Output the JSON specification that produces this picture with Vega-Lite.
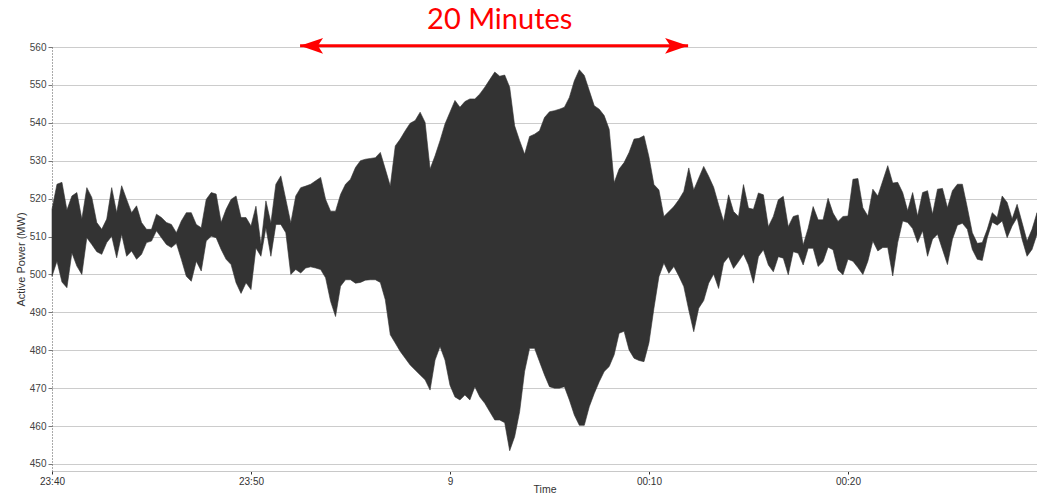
{
  "$schema": "https://vega.github.io/schema/vega-lite/v6.json",
  "width": 985,
  "height": 424,
  "autosize": {"type": "none"},
  "padding": {"left": 52, "top": 47, "right": 0, "bottom": 25},
  "background": "white",
  "config": {
    "view": {"stroke": null},
    "font": "Liberation Sans"
  },
  "datasets": {
    "power": [
      {"t":"2021-01-08T23:40:00","hi":517.2,"lo":499.5},
      {"t":"2021-01-08T23:40:15","hi":523.8,"lo":503.5},
      {"t":"2021-01-08T23:40:30","hi":524.3,"lo":498.0},
      {"t":"2021-01-08T23:40:45","hi":517.0,"lo":496.5},
      {"t":"2021-01-08T23:41:00","hi":520.7,"lo":505.7},
      {"t":"2021-01-08T23:41:15","hi":521.6,"lo":502.2},
      {"t":"2021-01-08T23:41:30","hi":514.6,"lo":500.0},
      {"t":"2021-01-08T23:41:45","hi":522.9,"lo":509.7},
      {"t":"2021-01-08T23:42:00","hi":520.3,"lo":507.9},
      {"t":"2021-01-08T23:42:15","hi":513.7,"lo":506.0},
      {"t":"2021-01-08T23:42:30","hi":511.9,"lo":505.3},
      {"t":"2021-01-08T23:42:45","hi":514.6,"lo":508.4},
      {"t":"2021-01-08T23:43:00","hi":522.9,"lo":510.1},
      {"t":"2021-01-08T23:43:15","hi":516.3,"lo":504.4},
      {"t":"2021-01-08T23:43:30","hi":523.4,"lo":510.6},
      {"t":"2021-01-08T23:43:45","hi":519.8,"lo":504.8},
      {"t":"2021-01-08T23:44:00","hi":516.3,"lo":506.2},
      {"t":"2021-01-08T23:44:15","hi":518.1,"lo":504.0},
      {"t":"2021-01-08T23:44:30","hi":513.7,"lo":505.3},
      {"t":"2021-01-08T23:44:45","hi":511.9,"lo":508.4},
      {"t":"2021-01-08T23:45:00","hi":511.9,"lo":508.8},
      {"t":"2021-01-08T23:45:15","hi":515.9,"lo":511.5},
      {"t":"2021-01-08T23:45:30","hi":515.0,"lo":509.7},
      {"t":"2021-01-08T23:45:45","hi":513.7,"lo":507.9},
      {"t":"2021-01-08T23:46:00","hi":513.2,"lo":507.1},
      {"t":"2021-01-08T23:46:15","hi":511.0,"lo":508.2},
      {"t":"2021-01-08T23:46:30","hi":514.1,"lo":504.0},
      {"t":"2021-01-08T23:46:45","hi":516.3,"lo":499.5},
      {"t":"2021-01-08T23:47:00","hi":516.3,"lo":498.2},
      {"t":"2021-01-08T23:47:15","hi":513.2,"lo":503.5},
      {"t":"2021-01-08T23:47:30","hi":512.3,"lo":500.9},
      {"t":"2021-01-08T23:47:45","hi":519.8,"lo":508.8},
      {"t":"2021-01-08T23:48:00","hi":521.6,"lo":510.1},
      {"t":"2021-01-08T23:48:15","hi":521.2,"lo":509.7},
      {"t":"2021-01-08T23:48:30","hi":513.7,"lo":506.6},
      {"t":"2021-01-08T23:48:45","hi":517.2,"lo":504.0},
      {"t":"2021-01-08T23:49:00","hi":519.8,"lo":502.6},
      {"t":"2021-01-08T23:49:15","hi":520.7,"lo":497.8},
      {"t":"2021-01-08T23:49:30","hi":515.0,"lo":495.0},
      {"t":"2021-01-08T23:49:45","hi":515.0,"lo":497.8},
      {"t":"2021-01-08T23:50:00","hi":512.8,"lo":496.0},
      {"t":"2021-01-08T23:50:15","hi":518.0,"lo":507.0},
      {"t":"2021-01-08T23:50:30","hi":507.9,"lo":504.8},
      {"t":"2021-01-08T23:50:45","hi":519.4,"lo":512.3},
      {"t":"2021-01-08T23:51:00","hi":513.6,"lo":504.8},
      {"t":"2021-01-08T23:51:15","hi":523.8,"lo":513.2},
      {"t":"2021-01-08T23:51:30","hi":526.0,"lo":513.2},
      {"t":"2021-01-08T23:51:45","hi":519.8,"lo":511.0},
      {"t":"2021-01-08T23:52:00","hi":513.6,"lo":500.0},
      {"t":"2021-01-08T23:52:15","hi":520.7,"lo":501.3},
      {"t":"2021-01-08T23:52:30","hi":522.9,"lo":500.4},
      {"t":"2021-01-08T23:52:45","hi":523.3,"lo":501.7},
      {"t":"2021-01-08T23:53:00","hi":523.8,"lo":502.0},
      {"t":"2021-01-08T23:53:15","hi":524.7,"lo":501.7},
      {"t":"2021-01-08T23:53:30","hi":525.6,"lo":501.3},
      {"t":"2021-01-08T23:53:45","hi":519.8,"lo":499.1},
      {"t":"2021-01-08T23:54:00","hi":516.7,"lo":492.9},
      {"t":"2021-01-08T23:54:15","hi":516.7,"lo":488.9},
      {"t":"2021-01-08T23:54:30","hi":521.1,"lo":496.9},
      {"t":"2021-01-08T23:54:45","hi":523.8,"lo":498.6},
      {"t":"2021-01-08T23:55:00","hi":525.1,"lo":498.6},
      {"t":"2021-01-08T23:55:15","hi":528.2,"lo":497.7},
      {"t":"2021-01-08T23:55:30","hi":530.0,"lo":497.9},
      {"t":"2021-01-08T23:55:45","hi":530.4,"lo":498.5},
      {"t":"2021-01-08T23:56:00","hi":530.6,"lo":498.6},
      {"t":"2021-01-08T23:56:15","hi":530.8,"lo":498.6},
      {"t":"2021-01-08T23:56:30","hi":532.2,"lo":497.9},
      {"t":"2021-01-08T23:56:45","hi":527.8,"lo":493.3},
      {"t":"2021-01-08T23:57:00","hi":523.3,"lo":484.1},
      {"t":"2021-01-08T23:57:15","hi":533.9,"lo":481.9},
      {"t":"2021-01-08T23:57:30","hi":535.7,"lo":479.7},
      {"t":"2021-01-08T23:57:45","hi":537.9,"lo":477.9},
      {"t":"2021-01-08T23:58:00","hi":539.9,"lo":476.1},
      {"t":"2021-01-08T23:58:15","hi":540.6,"lo":474.8},
      {"t":"2021-01-08T23:58:30","hi":542.8,"lo":473.5},
      {"t":"2021-01-08T23:58:45","hi":540.1,"lo":472.2},
      {"t":"2021-01-08T23:59:00","hi":527.8,"lo":469.5},
      {"t":"2021-01-08T23:59:15","hi":531.3,"lo":477.4},
      {"t":"2021-01-08T23:59:30","hi":535.3,"lo":481.0},
      {"t":"2021-01-08T23:59:45","hi":539.7,"lo":477.4},
      {"t":"2021-01-09T00:00:00","hi":542.8,"lo":470.8},
      {"t":"2021-01-09T00:00:15","hi":545.9,"lo":467.7},
      {"t":"2021-01-09T00:00:30","hi":544.1,"lo":466.9},
      {"t":"2021-01-09T00:00:45","hi":545.6,"lo":468.2},
      {"t":"2021-01-09T00:01:00","hi":546.3,"lo":466.9},
      {"t":"2021-01-09T00:01:15","hi":546.3,"lo":470.4},
      {"t":"2021-01-09T00:01:30","hi":547.6,"lo":467.7},
      {"t":"2021-01-09T00:01:45","hi":549.4,"lo":466.0},
      {"t":"2021-01-09T00:02:00","hi":551.4,"lo":463.8},
      {"t":"2021-01-09T00:02:15","hi":553.4,"lo":461.6},
      {"t":"2021-01-09T00:02:30","hi":552.3,"lo":461.6},
      {"t":"2021-01-09T00:02:45","hi":552.6,"lo":460.9},
      {"t":"2021-01-09T00:03:00","hi":549.4,"lo":453.5},
      {"t":"2021-01-09T00:03:15","hi":539.2,"lo":457.2},
      {"t":"2021-01-09T00:03:30","hi":535.3,"lo":463.8},
      {"t":"2021-01-09T00:03:45","hi":531.7,"lo":474.4},
      {"t":"2021-01-09T00:04:00","hi":536.4,"lo":480.5},
      {"t":"2021-01-09T00:04:15","hi":537.0,"lo":480.5},
      {"t":"2021-01-09T00:04:30","hi":537.9,"lo":477.0},
      {"t":"2021-01-09T00:04:45","hi":541.4,"lo":473.5},
      {"t":"2021-01-09T00:05:00","hi":542.9,"lo":470.4},
      {"t":"2021-01-09T00:05:15","hi":543.2,"lo":470.0},
      {"t":"2021-01-09T00:05:30","hi":543.6,"lo":470.0},
      {"t":"2021-01-09T00:05:45","hi":544.1,"lo":470.4},
      {"t":"2021-01-09T00:06:00","hi":546.7,"lo":466.9},
      {"t":"2021-01-09T00:06:15","hi":551.1,"lo":462.9},
      {"t":"2021-01-09T00:06:30","hi":554.0,"lo":460.2},
      {"t":"2021-01-09T00:06:45","hi":552.5,"lo":460.2},
      {"t":"2021-01-09T00:07:00","hi":548.5,"lo":465.1},
      {"t":"2021-01-09T00:07:15","hi":544.5,"lo":468.6},
      {"t":"2021-01-09T00:07:30","hi":543.6,"lo":471.7},
      {"t":"2021-01-09T00:07:45","hi":541.9,"lo":474.4},
      {"t":"2021-01-09T00:08:00","hi":538.3,"lo":475.7},
      {"t":"2021-01-09T00:08:15","hi":524.2,"lo":478.8},
      {"t":"2021-01-09T00:08:30","hi":527.8,"lo":484.5},
      {"t":"2021-01-09T00:08:45","hi":529.5,"lo":485.0},
      {"t":"2021-01-09T00:09:00","hi":532.2,"lo":480.1},
      {"t":"2021-01-09T00:09:15","hi":535.7,"lo":477.9},
      {"t":"2021-01-09T00:09:30","hi":535.9,"lo":477.3},
      {"t":"2021-01-09T00:09:45","hi":536.6,"lo":477.0},
      {"t":"2021-01-09T00:10:00","hi":531.0,"lo":482.0},
      {"t":"2021-01-09T00:10:15","hi":523.7,"lo":491.1},
      {"t":"2021-01-09T00:10:30","hi":522.3,"lo":499.4},
      {"t":"2021-01-09T00:10:45","hi":515.3,"lo":503.0},
      {"t":"2021-01-09T00:11:00","hi":516.6,"lo":500.3},
      {"t":"2021-01-09T00:11:15","hi":517.9,"lo":502.1},
      {"t":"2021-01-09T00:11:30","hi":519.7,"lo":499.6},
      {"t":"2021-01-09T00:11:45","hi":521.9,"lo":496.8},
      {"t":"2021-01-09T00:12:00","hi":528.1,"lo":490.6},
      {"t":"2021-01-09T00:12:15","hi":522.3,"lo":484.9},
      {"t":"2021-01-09T00:12:30","hi":525.4,"lo":491.1},
      {"t":"2021-01-09T00:12:45","hi":528.5,"lo":493.1},
      {"t":"2021-01-09T00:13:00","hi":525.9,"lo":497.7},
      {"t":"2021-01-09T00:13:15","hi":523.0,"lo":500.1},
      {"t":"2021-01-09T00:13:30","hi":518.4,"lo":496.3},
      {"t":"2021-01-09T00:13:45","hi":514.0,"lo":503.0},
      {"t":"2021-01-09T00:14:00","hi":521.0,"lo":504.7},
      {"t":"2021-01-09T00:14:15","hi":516.6,"lo":501.6},
      {"t":"2021-01-09T00:14:30","hi":515.3,"lo":503.4},
      {"t":"2021-01-09T00:14:45","hi":523.7,"lo":505.4},
      {"t":"2021-01-09T00:15:00","hi":517.5,"lo":502.5},
      {"t":"2021-01-09T00:15:15","hi":517.2,"lo":497.7},
      {"t":"2021-01-09T00:15:30","hi":521.5,"lo":504.7},
      {"t":"2021-01-09T00:15:45","hi":521.0,"lo":506.5},
      {"t":"2021-01-09T00:16:00","hi":512.6,"lo":502.5},
      {"t":"2021-01-09T00:16:15","hi":515.3,"lo":500.7},
      {"t":"2021-01-09T00:16:30","hi":519.7,"lo":504.7},
      {"t":"2021-01-09T00:16:45","hi":520.6,"lo":504.3},
      {"t":"2021-01-09T00:17:00","hi":512.6,"lo":499.9},
      {"t":"2021-01-09T00:17:15","hi":515.3,"lo":506.0},
      {"t":"2021-01-09T00:17:30","hi":515.7,"lo":505.6},
      {"t":"2021-01-09T00:17:45","hi":507.8,"lo":502.5},
      {"t":"2021-01-09T00:18:00","hi":512.2,"lo":506.9},
      {"t":"2021-01-09T00:18:15","hi":517.9,"lo":506.9},
      {"t":"2021-01-09T00:18:30","hi":514.4,"lo":502.1},
      {"t":"2021-01-09T00:18:45","hi":514.4,"lo":503.4},
      {"t":"2021-01-09T00:19:00","hi":520.1,"lo":507.2},
      {"t":"2021-01-09T00:19:15","hi":516.2,"lo":506.5},
      {"t":"2021-01-09T00:19:30","hi":514.0,"lo":501.2},
      {"t":"2021-01-09T00:19:45","hi":515.3,"lo":499.9},
      {"t":"2021-01-09T00:20:00","hi":515.4,"lo":504.0},
      {"t":"2021-01-09T00:20:15","hi":525.1,"lo":503.5},
      {"t":"2021-01-09T00:20:30","hi":525.3,"lo":501.8},
      {"t":"2021-01-09T00:20:45","hi":517.6,"lo":500.0},
      {"t":"2021-01-09T00:21:00","hi":515.4,"lo":503.5},
      {"t":"2021-01-09T00:21:15","hi":522.5,"lo":508.8},
      {"t":"2021-01-09T00:21:30","hi":520.7,"lo":506.2},
      {"t":"2021-01-09T00:21:45","hi":524.7,"lo":507.1},
      {"t":"2021-01-09T00:22:00","hi":528.7,"lo":507.1},
      {"t":"2021-01-09T00:22:15","hi":524.1,"lo":499.6},
      {"t":"2021-01-09T00:22:30","hi":524.3,"lo":508.4},
      {"t":"2021-01-09T00:22:45","hi":521.6,"lo":514.1},
      {"t":"2021-01-09T00:23:00","hi":516.8,"lo":513.7},
      {"t":"2021-01-09T00:23:15","hi":521.6,"lo":512.1},
      {"t":"2021-01-09T00:23:30","hi":515.4,"lo":508.4},
      {"t":"2021-01-09T00:23:45","hi":521.6,"lo":511.5},
      {"t":"2021-01-09T00:24:00","hi":522.1,"lo":504.8},
      {"t":"2021-01-09T00:24:15","hi":515.9,"lo":509.3},
      {"t":"2021-01-09T00:24:30","hi":522.5,"lo":510.6},
      {"t":"2021-01-09T00:24:45","hi":522.7,"lo":506.6},
      {"t":"2021-01-09T00:25:00","hi":517.6,"lo":502.6},
      {"t":"2021-01-09T00:25:15","hi":522.1,"lo":509.3},
      {"t":"2021-01-09T00:25:30","hi":523.8,"lo":513.0},
      {"t":"2021-01-09T00:25:45","hi":523.8,"lo":513.5},
      {"t":"2021-01-09T00:26:00","hi":517.6,"lo":511.9},
      {"t":"2021-01-09T00:26:15","hi":511.0,"lo":506.6},
      {"t":"2021-01-09T00:26:30","hi":508.2,"lo":504.0},
      {"t":"2021-01-09T00:26:45","hi":508.4,"lo":503.7},
      {"t":"2021-01-09T00:27:00","hi":511.9,"lo":509.7},
      {"t":"2021-01-09T00:27:15","hi":516.3,"lo":513.8},
      {"t":"2021-01-09T00:27:30","hi":515.0,"lo":513.0},
      {"t":"2021-01-09T00:27:45","hi":520.7,"lo":514.1},
      {"t":"2021-01-09T00:28:00","hi":519.0,"lo":509.7},
      {"t":"2021-01-09T00:28:15","hi":514.6,"lo":512.8},
      {"t":"2021-01-09T00:28:30","hi":518.5,"lo":515.0},
      {"t":"2021-01-09T00:28:45","hi":513.7,"lo":509.3},
      {"t":"2021-01-09T00:29:00","hi":508.8,"lo":504.8},
      {"t":"2021-01-09T00:29:15","hi":511.9,"lo":506.6},
      {"t":"2021-01-09T00:29:30","hi":516.3,"lo":510.6}
    ]
  },
  "encoding": {
    "x": {
      "field": "t", "type": "temporal",
      "scale": {"domain": [{"year":2021,"month":1,"date":8,"hours":23,"minutes":40},{"year":2021,"month":1,"date":9,"hours":0,"minutes":29,"seconds":30}], "nice": false},
      "axis": {
        "title": "Time",
        "values": [
          {"year":2021,"month":1,"date":8,"hours":23,"minutes":40},
          {"year":2021,"month":1,"date":8,"hours":23,"minutes":50},
          {"year":2021,"month":1,"date":9,"hours":0,"minutes":0},
          {"year":2021,"month":1,"date":9,"hours":0,"minutes":10},
          {"year":2021,"month":1,"date":9,"hours":0,"minutes":20}
        ],
        "labelExpr": "hours(datum.value) == 0 && minutes(datum.value) == 0 ? '9' : timeFormat(datum.value, '%H:%M')",
        "labelFlush": false,
        "labelOverlap": false,
        "grid": false,
        "domainColor": "#c8c8c8",
        "tickColor": "#333333",
        "tickSize": 3,
        "labelFont": "Liberation Sans",
        "labelFontSize": 10,
        "labelColor": "#333333",
        "labelPadding": 2,
        "titleFont": "Liberation Sans",
        "titleFontSize": 10.5,
        "titleFontWeight": "normal",
        "titleColor": "#333333",
        "titlePadding": -2
      }
    },
    "y": {
      "field": "hi", "type": "quantitative",
      "scale": {"domain": [448.15, 560], "nice": false, "zero": false},
      "axis": {
        "title": "Active Power (MW)",
        "values": [450,460,470,480,490,500,510,520,530,540,550,560],
        "grid": true,
        "gridColor": "#cccccc",
        "gridWidth": 1,
        "domainColor": "#555555",
        "domainDash": [1, 2],
        "tickColor": "#777777",
        "tickSize": 4,
        "labelFont": "Liberation Sans",
        "labelFontSize": 10,
        "labelColor": "#444444",
        "labelPadding": 2,
        "labelOverlap": false,
        "labelBound": false,
        "titleFont": "Liberation Sans",
        "titleFontSize": 11,
        "titleFontWeight": "normal",
        "titleColor": "#333333",
        "titlePadding": 3
      }
    }
  },
  "layer": [
    {
      "data": {"name": "power"},
      "mark": {"type": "area", "color": "#333333", "stroke": "#333333", "strokeWidth": 0.6, "interpolate": "linear"},
      "encoding": {
        "y2": {"field": "lo"}
      }
    },
    {
      "data": {"values": [{"t":"2021-01-08T23:52:28","t2":"2021-01-09T00:11:58","hi":560.3}]},
      "mark": {"type": "rule", "color": "#ff0000", "strokeWidth": 3, "clip": false},
      "encoding": {
        "x2": {"field": "t2"}
      }
    },
    {
      "data": {"values": [{"t":"2021-01-08T23:52:28","hi":560.3}]},
      "mark": {"type": "point", "shape": "M -1 0 L 1 -0.68 L 0.55 0 L 1 0.68 Z", "filled": true, "color": "#ff0000", "opacity": 1, "size": 529, "xOffset": 11.5, "clip": false},
      "encoding": {}
    },
    {
      "data": {"values": [{"t":"2021-01-09T00:11:58","hi":560.3}]},
      "mark": {"type": "point", "shape": "M 1 0 L -1 -0.68 L -0.55 0 L -1 0.68 Z", "filled": true, "color": "#ff0000", "opacity": 1, "size": 529, "xOffset": -11.5, "clip": false},
      "encoding": {}
    },
    {
      "data": {"values": [{"t":"2021-01-09T00:02:30","hi":567.1,"label":"20 Minutes"}]},
      "mark": {"type": "text", "color": "#ff0000", "font": "Lato", "fontSize": 29, "align": "center", "baseline": "middle", "clip": false},
      "encoding": {
        "text": {"field": "label"}
      }
    }
  ]
}
